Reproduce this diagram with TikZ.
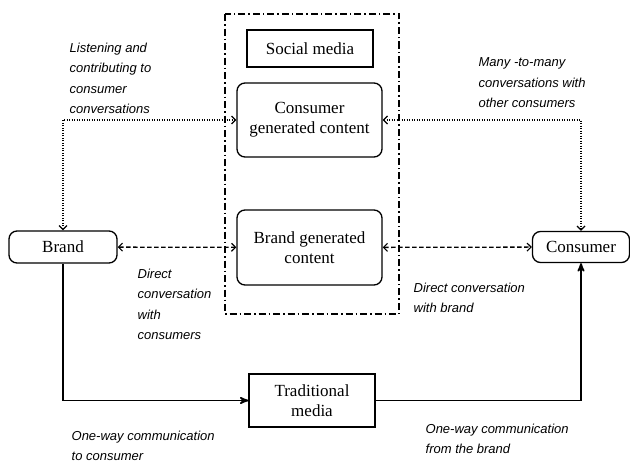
\documentclass[tikz,border=0pt]{standalone}
\usepackage{fontspec}
\setmainfont{Liberation Serif}
\newfontfamily\notefont{Liberation Sans}
\usetikzlibrary{arrows,arrows.meta}

\begin{document}
\begin{tikzpicture}[x=1pt,y=-1pt,>=stealth',line width=1.3pt,
        main node/.style={draw,rectangle,align=center,inner sep=0pt,font=\fontsize{17}{20}\selectfont},
        round node/.style={main node,rounded corners=8pt},
        barb/.style={>={Straight Barb[length=4pt,width=8pt,line width=1.2pt]}},
        note/.style={anchor=north west,align=left,inner sep=0pt,font=\notefont\itshape\fontsize{13}{20.5}\selectfont}]
        \useasboundingbox (0,0) rectangle (630,463);
        \draw[line width=1.2pt,dash pattern=on 7pt off 3pt on 1.5pt off 3pt] (225,14) rectangle (399,314);
        \node[main node,minimum width=126pt,minimum height=37pt] (social) at (310,48.5) {Social media};
        \node[round node,minimum width=145pt,minimum height=74pt] (cgc) at (309.5,120) {Consumer\\generated content};
        \node[round node,minimum width=145pt,minimum height=75pt] (bgc) at (309.5,247.5) {Brand generated\\content};
        \node[round node,minimum width=108pt,minimum height=32pt] (brand) at (63,247) {Brand};
        \node[round node,minimum width=97pt,minimum height=31pt] (consumer) at (581,247) {Consumer};
        \node[main node,minimum width=126pt,minimum height=53pt] (trad) at (312,400.5) {Traditional\\media};
        \path[barb,line width=1.3pt,dash pattern=on 1.3pt off 1.2pt]
        (brand.north) edge[<->,to path={|- (\tikztotarget)}] (cgc.west)
        (cgc.east) edge[<->,to path={-| (\tikztotarget)}] (consumer.north);
        \path[barb,line width=1.3pt,dash pattern=on 4.5pt off 2.5pt]
        (brand) edge[<->] (bgc)
        (bgc) edge[<->] (consumer);
        \draw[->,line width=1.8pt] (brand.south) |- (trad.west);
        \draw[->,line width=1.8pt] (trad.east) -| (consumer.south);
        \node[note] (listen) at (69,42) {Listening and\\contributing to\\consumer\\conversations};
        \node[note] (many) at (478,57) {Many -to-many\\conversations with\\other consumers};
        \node[note] (direct) at (137,268) {Direct\\conversation\\with\\consumers};
        \node[note] (directbrand) at (413,282) {Direct conversation\\with brand};
        \node[note] (oneway) at (71,430) {One-way communication\\to consumer};
        \node[note] (onewayfrom) at (425,423) {One-way communication\\from the brand};
\end{tikzpicture}
\end{document}
